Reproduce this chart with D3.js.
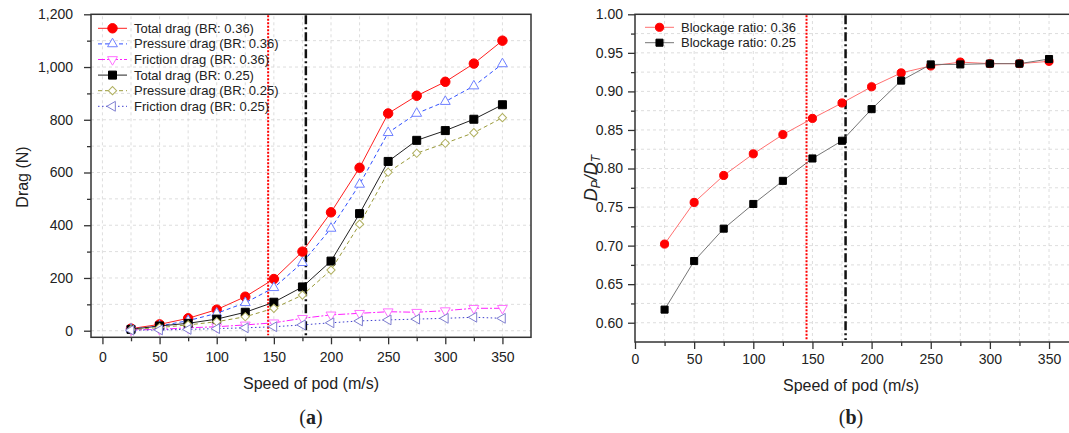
<!DOCTYPE html>
<html>
<head>
<meta charset="utf-8">
<script src="https://cdn.jsdelivr.net/npm/d3@7"></script>
<style>
  body { margin: 0; background: #fff; }
  text { font-family: "Liberation Sans", Arial, sans-serif; fill: #222; }
</style>
</head>
<body>
<svg width="1069" height="433"></svg>
<script>
// data
const speeds = [25, 50, 75, 100, 125, 150, 175, 200, 225, 250, 275, 300, 325, 350];
const totalDrag036    = [8, 24, 47, 80, 129, 196, 300, 449, 618, 824, 891, 944, 1013, 1100];
const pressureDrag036 = [6, 18, 38, 66, 106, 163, 258, 388, 555, 751, 824, 869, 928, 1012];
const frictionDrag036 = [3, 5, 11, 15, 22, 30, 47, 60, 66, 72, 70, 76, 85, 85];
const totalDrag025    = [5, 18, 28, 44, 70, 108, 166, 264, 444, 642, 722, 759, 802, 857];
const pressureDrag025 = [4, 12, 22, 34, 53, 85, 135, 230, 404, 601, 673, 711, 751, 808];
const frictionDrag025 = [2, 3, 5, 8, 11, 15, 22, 30, 37, 41, 44, 47, 51, 47];
const ratio036 = [0.702, 0.756, 0.791, 0.819, 0.844, 0.865, 0.885, 0.906, 0.924, 0.933, 0.938, 0.936, 0.936, 0.939];
const ratio025 = [0.617, 0.680, 0.722, 0.754, 0.784, 0.813, 0.836, 0.877, 0.914, 0.935, 0.935, 0.936, 0.936, 0.942];
const speedTicks = [0, 50, 100, 150, 200, 250, 300, 350];
const dragTicks = [0, 200, 400, 600, 800, 1000, 1200];
const ratioTicks = [0.60, 0.65, 0.70, 0.75, 0.80, 0.85, 0.90, 0.95, 1.00];
const refLines = [145, 178];

let svg = d3.select("svg");
svg.append("rect").attr("width", 1069).attr("height", 433).attr("fill", "#fff");

function marker(g, shape, x, y, s) {
    let sym = d3.symbol().type(s.type).size(s.size);
    g.append("path")
        .attr("d", sym())
        .attr("transform", "translate(" + x + "," + y + ") rotate(" + (s.rot || 0) + ")")
        .attr("fill", s.fill)
        .attr("stroke", s.stroke)
        .attr("stroke-width", s.sw || 1);
}

function drawPanel(p) {
    let x = p.x, y = p.y;
    let g = svg.append("g");
    let [x0, x1] = x.range(), [y0, y1] = y.range();

    // grid
    g.selectAll(".vgrid").data(p.vgrid).enter().append("line")
        .attr("x1", d => x(d)).attr("x2", d => x(d))
        .attr("y1", y0).attr("y2", y1)
        .attr("stroke", "#d4d4d4").attr("stroke-dasharray", "3,3").attr("stroke-width", 0.8);
    g.selectAll(".hgrid").data(p.hgrid).enter().append("line")
        .attr("x1", x0).attr("x2", x1)
        .attr("y1", d => y(d)).attr("y2", d => y(d))
        .attr("stroke", "#d4d4d4").attr("stroke-dasharray", "3,3").attr("stroke-width", 0.8);

    // reference speeds
    g.append("line").attr("x1", x(refLines[0])).attr("x2", x(refLines[0]))
        .attr("y1", y1 + 1).attr("y2", y0 - 2)
        .attr("stroke", "#ff0000").attr("stroke-width", 2).attr("stroke-dasharray", "2,1.5");
    g.append("line").attr("x1", x(refLines[1])).attr("x2", x(refLines[1]))
        .attr("y1", y1 + 1).attr("y2", y0 - 2)
        .attr("stroke", "#111").attr("stroke-width", 2.5).attr("stroke-dasharray", "9,3,2,3");

    // series
    p.series.forEach(function(s) {
        let line = d3.line().x((d, i) => x(speeds[i])).y(d => y(d));
        g.append("path").datum(s.values)
            .attr("d", line)
            .attr("fill", "none")
            .attr("stroke", s.color)
            .attr("stroke-width", s.width || 1)
            .attr("stroke-dasharray", s.dash || null);
        s.values.forEach(function(v, i) { marker(g, s.type, x(speeds[i]), y(v), s.mk); });
    });

    // frame
    g.append("rect").attr("x", x0).attr("y", y1).attr("width", x1 - x0).attr("height", y0 - y1)
        .attr("fill", "none").attr("stroke", "#333").attr("stroke-width", 1.5);

    // axes
    let xa = g.append("g").attr("transform", "translate(0," + y0 + ")")
        .call(d3.axisBottom(x).tickValues(speedTicks).tickSize(7).tickPadding(p.xpad));
    let xm = g.append("g").attr("transform", "translate(0," + y0 + ")")
        .call(d3.axisBottom(x).tickValues(p.xminor).tickSize(4).tickFormat(""));
    let ya = g.append("g").attr("transform", "translate(" + x0 + ",0)")
        .call(d3.axisLeft(y).tickValues(p.yticks).tickSize(7).tickPadding(p.ypad).tickFormat(p.yfmt));
    let ym = g.append("g").attr("transform", "translate(" + x0 + ",0)")
        .call(d3.axisLeft(y).tickValues(p.yminor).tickSize(4).tickFormat(""));
    [xa, xm, ya, ym].forEach(function(a) {
        a.select(".domain").remove();
        a.selectAll("line").attr("stroke", "#333").attr("stroke-width", 1.3);
        a.selectAll("text").attr("font-size", 14).attr("fill", "#222")
            .style("font-family", "Liberation Sans, Arial, sans-serif");
    });

    // x title and panel label
    g.append("text").attr("x", p.xtitle[0]).attr("y", p.xtitle[1])
        .attr("text-anchor", "middle").attr("font-size", 16).text("Speed of pod (m/s)");
    let lab = g.append("text").attr("x", p.label[0]).attr("y", p.label[1])
        .attr("text-anchor", "middle").attr("font-size", 20)
        .style("font-family", "Liberation Serif, Times New Roman, serif");
    lab.append("tspan").text("(");
    lab.append("tspan").attr("font-weight", "bold").text(p.letter);
    lab.append("tspan").text(")");

    // legend
    p.series.forEach(function(s, i) {
        let ly = p.legend[1] + i * p.legend[2];
        let lx = p.legend[0];
        g.append("line").attr("x1", lx).attr("x2", lx + 29).attr("y1", ly).attr("y2", ly)
            .attr("stroke", s.color).attr("stroke-width", s.width || 1)
            .attr("stroke-dasharray", s.dash || null);
        marker(g, s.type, lx + 14.5, ly, s.mk);
        g.append("text").attr("x", lx + 36).attr("y", ly).attr("dy", "0.35em")
            .attr("font-size", 13).text(s.name);
    });
    return g;
}

let leftPanel = drawPanel({
    x: d3.scaleLinear().domain([-10, 375]).range([91, 531]),
    y: d3.scaleLinear().domain([-25, 1200]).range([337.3, 14.3]),
    vgrid: d3.range(0, 375, 25),
    hgrid: d3.range(0, 1200, 100),
    xminor: d3.range(25, 375, 50),
    yminor: d3.range(100, 1200, 200),
    yticks: dragTicks,
    yfmt: d3.format(","),
    xpad: 8, ypad: 11,
    xtitle: [311, 389], label: [311, 424], letter: "a",
    legend: [98, 28.3, 15.6],
    series: [
        {name: "Total drag (BR: 0.36)", values: totalDrag036, color: "#ff2020",
         mk: {type: d3.symbolCircle, size: 70, fill: "#ff0000", stroke: "#ff0000"}},
        {name: "Pressure drag (BR: 0.36)", values: pressureDrag036, color: "#3050ff", dash: "4,3",
         mk: {type: d3.symbolTriangle, size: 42, fill: "#fff", stroke: "#6f80ff"}},
        {name: "Friction drag (BR: 0.36)", values: frictionDrag036, color: "#ff20ff", dash: "7,2,2,2",
         mk: {type: d3.symbolTriangle, size: 42, rot: 180, fill: "#fff", stroke: "#ff70ff"}},
        {name: "Total drag (BR: 0.25)", values: totalDrag025, color: "#222",
         mk: {type: d3.symbolSquare, size: 64, fill: "#000", stroke: "#000"}},
        {name: "Pressure drag (BR: 0.25)", values: pressureDrag025, color: "#9a9a3a", dash: "4,3",
         mk: {type: d3.symbolSquare, size: 34, rot: 45, fill: "#fff", stroke: "#b0b060"}},
        {name: "Friction drag (BR: 0.25)", values: frictionDrag025, color: "#4040d0", dash: "1.5,2.5",
         mk: {type: d3.symbolTriangle, size: 42, rot: -90, fill: "#fff", stroke: "#8080d0"}}
    ]
});
leftPanel.append("text").attr("transform", "translate(28,177) rotate(-90)")
    .attr("text-anchor", "middle").attr("font-size", 16).text("Drag (N)");

let rightPanel = drawPanel({
    x: d3.scaleLinear().domain([0, 370]).range([635, 1072.7]),
    y: d3.scaleLinear().domain([0.575, 1.0]).range([342, 14.3]),
    vgrid: d3.range(25, 370, 25),
    hgrid: d3.range(0.6, 0.99, 0.025),
    xminor: d3.range(25, 370, 50),
    yminor: d3.range(0.625, 1.0, 0.05),
    yticks: ratioTicks,
    yfmt: d3.format(".2f"),
    xpad: 5, ypad: 5,
    xtitle: [851, 391], label: [851, 424], letter: "b",
    legend: [645, 27.3, 15.4],
    series: [
        {name: "Blockage ratio: 0.36", values: ratio036, color: "#ff6060", width: 0.9,
         mk: {type: d3.symbolCircle, size: 52, fill: "#ff0000", stroke: "#ff0000"}},
        {name: "Blockage ratio: 0.25", values: ratio025, color: "#666", width: 0.9,
         mk: {type: d3.symbolSquare, size: 50, fill: "#000", stroke: "#000"}}
    ]
});
// D_P / D_T, rotated
let yt = rightPanel.append("text").attr("transform", "translate(597,178) rotate(-90)")
    .attr("text-anchor", "middle").attr("font-size", 18).attr("font-style", "italic");
yt.append("tspan").text("D");
yt.append("tspan").attr("font-size", 12).attr("baseline-shift", "-25%").text("P");
yt.append("tspan").text("/D");
yt.append("tspan").attr("font-size", 12).attr("baseline-shift", "-25%").text("T");
</script>
</body>
</html>
